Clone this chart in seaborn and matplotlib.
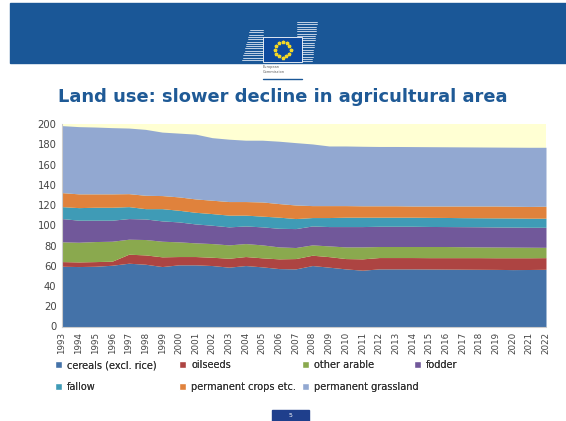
import numpy as np
import seaborn as sns
import matplotlib.pyplot as plt
from matplotlib.patches import Rectangle, Patch

# data (million ha, layer thickness per year)
years = list(range(1993, 2023))
cereals = [59.5, 59.2, 59.5, 60.5, 62.5, 61.5, 59.2, 60.9, 60.9, 60.2, 58.6, 60.2, 58.9, 57.2, 56.9,
           60.2, 58.6, 56.9, 55.6, 56.9, 56.9, 56.9, 56.8, 56.7, 56.6, 56.5, 56.4, 56.2, 56.3, 56.5]
oilseeds = [4.6, 4.6, 4.6, 4.0, 8.9, 9.2, 9.6, 8.2, 8.2, 8.2, 8.8, 8.9, 8.9, 9.6, 10.2,
            10.2, 10.4, 10.2, 11.2, 11.2, 11.2, 11.2, 11.2, 11.3, 11.4, 11.5, 11.5, 11.7, 11.6, 11.5]
other_arable = [19.5, 19.4, 19.8, 19.7, 14.8, 15.2, 15.4, 14.5, 13.5, 13.5, 13.2, 12.8, 12.8, 11.8, 10.9,
                10.2, 10.6, 11.5, 11.8, 10.9, 10.9, 10.9, 11.0, 11.0, 10.8, 10.6, 10.6, 10.5, 10.4, 10.2]
fodder = [23.0, 21.8, 21.1, 20.8, 20.4, 20.3, 20.1, 19.7, 18.7, 18.1, 17.8, 17.4, 17.8, 18.4, 18.7,
          18.7, 19.1, 20.1, 20.1, 20.0, 20.0, 20.0, 19.8, 19.7, 19.8, 19.9, 19.8, 19.8, 19.7, 19.8]
fallow = [11.8, 12.4, 12.8, 12.8, 11.8, 10.2, 12.1, 11.5, 11.5, 11.5, 11.6, 10.7, 10.6, 11.0, 9.9,
          8.3, 8.9, 9.3, 9.3, 9.0, 9.0, 9.0, 9.0, 9.0, 8.9, 8.9, 9.0, 9.0, 9.0, 9.0]
perm_crops = [13.8, 13.6, 13.2, 13.2, 12.8, 13.2, 12.9, 13.2, 13.2, 13.2, 13.4, 13.4, 14.0, 13.4, 13.4,
              11.8, 11.8, 11.4, 11.2, 11.2, 11.2, 11.0, 11.2, 11.3, 11.5, 11.6, 11.7, 11.6, 11.6, 11.8]
grassland = [66.2, 66.4, 66.0, 65.4, 64.8, 65.1, 62.7, 63.0, 64.0, 61.8, 61.6, 60.6, 61.0, 61.6, 61.6,
             60.9, 58.9, 58.9, 58.8, 58.6, 58.6, 58.7, 58.6, 58.5, 58.4, 58.3, 58.2, 58.3, 58.4, 58.2]

labels = ['cereals (excl. rice)', 'oilseeds', 'other arable', 'fodder',
          'fallow', 'permanent crops etc.', 'permanent grassland']
colors = ['#4472A8', '#AD4442', '#8AA94E', '#71589A', '#3F9BB6', '#E0823C', '#92A8D1']

sns.set_style('white')
plt.rcParams['font.family'] = ['DejaVu Sans']

fig = plt.figure(figsize=(5.66, 4.21), dpi=100)

# slide banner
fig.patches.append(Rectangle((10 / 566, 1 - 63 / 421), 1 - 10 / 566, 60 / 421,
                             transform=fig.transFigure, color='#1A5797', zorder=0))
# building lines of the logo
for i in range(14):
    y = 1 - (30 + i * 2.3) / 421
    fig.add_artist(plt.Line2D([(242 + 8 - i * 0.6) / 566, 263 / 566], [y, y],
                              transform=fig.transFigure, color='#DDE6F2', lw=0.6))
for i in range(18):
    y = 1 - (22 + i * 2.3) / 421
    fig.add_artist(plt.Line2D([297 / 566, (317 - i * 0.3) / 566], [y, y],
                              transform=fig.transFigure, color='#DDE6F2', lw=0.6))
fig.patches.append(Rectangle((263 / 566, 1 - 62 / 421), 39 / 566, 25 / 421,
                             transform=fig.transFigure, facecolor='#0E4A9E',
                             edgecolor='white', lw=0.6, zorder=2))
ang = np.linspace(0, 2 * np.pi, 13)[:-1]
fig.add_artist(plt.Line2D(282.5 / 566 + 8 / 566 * np.cos(ang), 1 - 49.5 / 421 + 8 / 421 * np.sin(ang),
                          transform=fig.transFigure, ls='none', marker='*', ms=2.5,
                          color='#F3D727', zorder=3))
fig.text(263 / 566, 1 - 67 / 421, 'European', fontsize=2.5, color='#555555', va='center')
fig.text(263 / 566, 1 - 72 / 421, 'Commission', fontsize=2.5, color='#555555', va='center')
fig.add_artist(plt.Line2D([263 / 566, 302 / 566], [1 - 79 / 421, 1 - 79 / 421],
                          transform=fig.transFigure, color='#1A5797', lw=1))

fig.text(283 / 566, 1 - 97 / 421, 'Land use: slower decline in agricultural area',
         ha='center', va='center', fontsize=12.9, fontweight='bold', color='#1F5A96')

ax = fig.add_axes([62 / 566, 1 - 326.5 / 421, 484 / 566, 202.5 / 421])
ax.set_facecolor('#FFFFD3')
series = [cereals, oilseeds, other_arable, fodder, fallow, perm_crops, grassland]
ax.stackplot(years, *series, colors=colors, labels=labels, lw=0)

ax.set_xlim(1993, 2022)
ax.set_ylim(0, 200)
ax.set_yticks(range(0, 201, 20))
ax.set_xticks(years)
ax.set_xticklabels([str(y) for y in years], rotation=90)
ax.tick_params(axis='x', labelsize=6.3, colors='#444444', length=2, width=0.5, pad=2)
ax.tick_params(axis='y', labelsize=7.2, colors='#444444', length=0, pad=4)
for side in ['top', 'right']:
    ax.spines[side].set_visible(False)
ax.spines['left'].set_color('#CCCCCC')
ax.spines['bottom'].set_color('#CCCCCC')

# legend laid out as a grid: one legend per column
handles = [Patch(facecolor=c, label=l) for c, l in zip(colors, labels)]
columns = [[0, 4], [1, 5], [2, 6], [3]]
col_x = [55, 179, 302, 414]
for idx, x in zip(columns, col_x):
    leg = fig.legend([handles[i] for i in idx], [labels[i] for i in idx],
                     loc='upper left', bbox_to_anchor=(x / 566, 1 - 360 / 421),
                     frameon=False, fontsize=7, handlelength=0.75, handleheight=0.75,
                     handletextpad=0.5, labelspacing=1.2, borderpad=0, borderaxespad=0,
                     labelcolor='#333333')
    fig.add_artist(leg)

# page number
fig.patches.append(Rectangle((272 / 566, 0), 37 / 566, 11 / 421,
                             transform=fig.transFigure, color='#1F3F8C', zorder=0))
fig.text(290.5 / 566, 5.5 / 421, '5', ha='center', va='center', fontsize=4.5, color='white')

fig.savefig('out.png', dpi=100)
